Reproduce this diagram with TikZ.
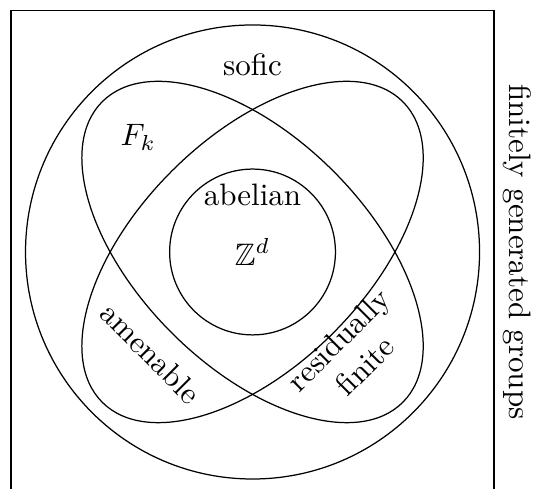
\documentclass[tikz,border=0pt]{standalone}
\usepackage{amsmath,amssymb}
\usepackage{tikz}
\usetikzlibrary{positioning}

\begin{document}
\begin{tikzpicture}[
    x=0.913cm, y=0.913cm,
    region/.style={thin, black},
    classname/.style={font=\normalsize, align=center, inner sep=1pt}
]

% ============================
% Frame and bounding box
% ============================
\useasboundingbox (-3.137,-2.944) rectangle (3.484,3.130);
\draw[region] (-3,-3) rectangle (3,3);
\node[classname, rotate=-90] (fg) at (3.29,0) {finitely generated groups};

% ============================
% Sofic groups
% ============================
\draw[region] (0,0) circle (2.82);
\node[classname] (sofic) at (0,2.32) {sofic};

% ============================
% Amenable and residually finite
% ============================
\draw[region, rotate=-45] (0,0) ellipse [x radius=2.64, y radius=1.42];
\draw[region, rotate=45]  (0,0) ellipse [x radius=2.64, y radius=1.42];
\node[classname] (free) at (-1.42,1.42) {$F_k$};
\node[classname, rotate=-45] (amen) at (-1.26,-1.26) {amenable};
\node[classname, rotate=45] (rf) at (1.23,-1.25) {residually\\finite};

% ============================
% Abelian groups
% ============================
\draw[region] (0,0) circle (1.03);
\node[classname] (abel) at (0,0.71) {abelian};
\node[classname] (zd) at (0,0) {$\mathbb{Z}^d$};

\end{tikzpicture}
\end{document}
